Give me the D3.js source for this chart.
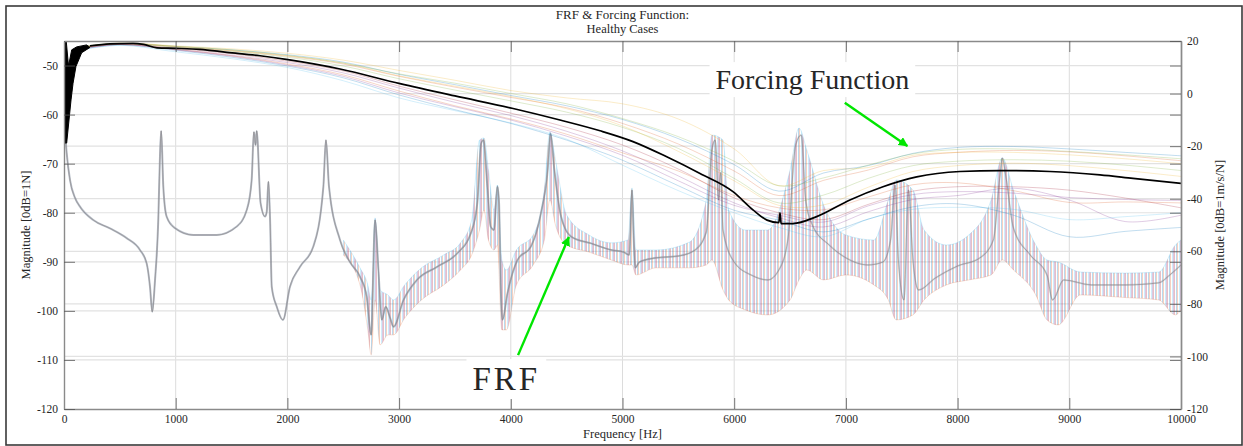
<!DOCTYPE html>
<html><head><meta charset="utf-8">
<script src="https://cdn.jsdelivr.net/npm/d3@7"></script>
<style>
body{margin:0;background:#fff}
svg{display:block}
text{font-family:"Liberation Serif","Times New Roman",serif;fill:#262626}
</style>
</head><body>
<svg id="c" width="1243" height="446"></svg>
<script>
// ---------------- DATA ----------------
const xTicks = [0,1000,2000,3000,4000,5000,6000,7000,8000,9000,10000];
const leftTicks = [-120,-110,-100,-90,-80,-70,-60,-50];
const rightTicks = [-120,-100,-80,-60,-40,-20,0,20];
const caseColors = ["#0072BD","#D95319","#EDB120","#7E2F8E","#77AC30","#4DBEEE","#A2142F"];

// FRF (right axis, dB re 1 m/s/N) - representative curve
const frfFreq = [2,24,54,98,143,262,412,561,680,740,770,790,815,844,860,870,889,919,994,1158,1367,1546,1636,1680,1700,1715,1725,1760,1800,1815,1830,1845,1860,1905,1960,2023,2113,2232,2322,2345,2372,2471,2560,2650,2710,2750,2785,2815,2845,2880,2920,2950,3040,3160,3340,3520,3640,3700,3735,3755,3790,3820,3850,3880,3895,3910,3925,3970,4060,4180,4270,4330,4355,4390,4450,4540,4720,4900,5010,5060,5085,5100,5115,5150,5300,5500,5650,5750,5800,5830,5860,5880,5900,6000,6150,6300,6400,6480,6550,6600,6640,6700,6850,7000,7200,7330,7400,7440,7470,7520,7560,7600,7650,7800,8000,8200,8320,8380,8400,8430,8500,8650,8800,8850,8950,9200,9500,9800,9900,10000];
const frfMag = [-9.5,-22.6,-32.9,-39.6,-43.0,-48.1,-51.3,-55.0,-59.5,-64.6,-73.5,-83.0,-70.9,-48.1,-22.7,-14.2,-35.4,-46.8,-51.2,-53.8,-53.8,-50.6,-44.3,-32.9,-14.6,-19.6,-14.2,-41.7,-46.8,-45.0,-33.5,-48.1,-73.5,-81.1,-86.1,-73.5,-65.9,-58.2,-35.4,-17.7,-35.2,-55.7,-64.1,-69.7,-77.3,-91.8,-48.1,-67.1,-86.1,-81.1,-85.4,-88.7,-78.5,-70.9,-65.9,-60.8,-53.4,-41.7,-18.9,-17.7,-35.4,-50.6,-51.9,-35.4,-41.7,-73.5,-86.1,-76.0,-63.3,-58.2,-45.5,-29.1,-15.2,-29.1,-46.8,-54.4,-57.0,-59.5,-60.3,-61.4,-36.7,-55.0,-66.3,-64.1,-62.5,-61.8,-59.5,-52.7,-21.5,-17.7,-40.5,-30.0,-51.9,-64.1,-69.0,-70.9,-67.1,-55.7,-19.6,-15.8,-40.5,-50.0,-57.6,-62.5,-65.2,-64.1,-55.7,-34.8,-63.3,-78.5,-36.7,-63.3,-74.7,-70.2,-65.6,-62.5,-55.7,-31.0,-24.5,-31.0,-51.1,-61.4,-69.0,-78.5,-70.9,-72.8,-72.8,-72.0,-69.0,-65.2];

// FRF spread across the healthy cases (upper / lower envelope)
const spreadFreq = [2500,2650,2720,2750,2785,2830,2900,2950,3050,3200,3400,3550,3650,3720,3760,3800,3850,3880,3920,3960,4050,4200,4300,4350,4400,4500,4700,4900,5050,5085,5120,5300,5600,5750,5800,5900,5950,6100,6300,6500,6580,6650,6800,7000,7250,7380,7450,7600,7700,7900,8100,8300,8400,8500,8700,8800,8900,9100,9500,9800,9950,10000];
const spreadHi = [-55.7,-66.3,-72.8,-78.5,-47.3,-74.7,-76.6,-78.5,-72.8,-66.3,-61.4,-56.8,-48.1,-17.7,-16.9,-29.1,-44.3,-34.8,-63.3,-67.1,-59.5,-53.8,-36.7,-14.6,-25.3,-46.2,-53.8,-56.8,-55.7,-35.9,-59.5,-59.5,-56.5,-40.5,-15.8,-17.7,-44.3,-51.9,-51.9,-29.1,-13.1,-21.5,-42.4,-53.8,-55.7,-40.5,-32.9,-36.7,-51.9,-57.6,-53.8,-40.5,-24.5,-36.7,-57.6,-63.3,-64.1,-67.9,-68.3,-67.9,-57.6,-55.7];
const spreadLo = [-61.4,-72.8,-89.9,-99.4,-78.5,-95.6,-91.8,-91.8,-85.4,-78.5,-72.8,-67.1,-61.4,-51.9,-44.3,-55.7,-59.5,-57.6,-89.9,-89.9,-72.8,-65.2,-55.7,-40.5,-50.0,-57.6,-60.3,-63.3,-65.2,-65.2,-69.0,-66.3,-66.3,-65.2,-63.3,-74.7,-78.5,-82.3,-84.2,-78.5,-70.9,-67.1,-70.9,-69.0,-72.8,-78.5,-86.1,-84.2,-78.5,-72.8,-70.9,-69.0,-63.3,-67.1,-76.6,-86.1,-88.0,-76.6,-77.6,-78.5,-84.2,-82.3];

// Forcing function (left axis, dB re 1 N): start-up transient envelope
const ffTopFreq = [0,20,38,45,69,113,202];
const ffTopMag  = [-45.0,-45.0,-49.5,-49.6,-46.8,-46.2,-45.8];
const ffBotFreq = [0,24,63,81,107,158,233];
const ffBotMag  = [-65.8,-65.8,-57.0,-53.6,-50.2,-47.4,-46.3];

// Forcing function mean (black)
const ffMeanFreq = [233,412,618,710,833,1003,1218,1459,1755,2005,2471,3008,3500,4011,4440,4799,5094,5396,5694,5989,6168,6294,6400,6410,6420,6526,6738,7036,7332,7634,8021,8380,8827,9275,9570,10000];
const ffMeanMag  = [-46.0,-45.6,-45.5,-45.7,-46.4,-46.5,-46.7,-47.3,-48.0,-48.8,-50.7,-53.7,-56.2,-58.7,-61.1,-63.3,-65.5,-68.6,-72.0,-75.7,-79.4,-81.5,-82.0,-80.0,-82.2,-82.2,-80.8,-77.4,-74.7,-72.7,-71.6,-71.4,-71.6,-72.3,-73.0,-74.0];

// Forcing function, individual healthy cases
const caseFreq = [150,500,1000,1500,2000,2500,3000,3500,4000,4500,5000,5500,6000,6400,6800,7200,7600,8000,8500,9000,9500,10000];
const case1  = [-46.2,-45.5,-46.1,-46.8,-47.8,-49.3,-51.8,-53.9,-56.1,-58.2,-61.0,-64.9,-70.2,-75.6,-71.9,-70.4,-67.9,-66.7,-66.5,-67.0,-67.7,-68.4];
const case2  = [-46.3,-45.5,-46.2,-47.0,-48.1,-49.7,-52.2,-54.4,-56.5,-58.6,-61.8,-66.0,-71.5,-76.5,-73.4,-71.3,-68.6,-67.7,-67.3,-67.6,-68.4,-69.4];
const case3  = [-46.2,-45.4,-46.0,-46.6,-47.5,-48.9,-51.0,-53.0,-55.1,-56.6,-57.8,-60.9,-67.0,-74.5,-71.4,-70.8,-68.3,-67.7,-67.7,-68.2,-69.0,-70.0];
const case4  = [-46.6,-45.7,-46.7,-47.9,-49.4,-51.5,-54.6,-57.5,-60.2,-63.4,-67.4,-72.5,-78.0,-81.0,-82.9,-79.8,-77.3,-76.5,-75.0,-77.4,-81.8,-80.5];
const case5  = [-46.3,-45.6,-46.3,-47.1,-48.3,-50.1,-52.7,-55.0,-57.2,-59.5,-62.6,-66.9,-73.0,-78.0,-76.4,-73.0,-70.4,-69.5,-69.2,-69.5,-70.3,-71.4];
const case6  = [-46.8,-45.9,-47.2,-48.6,-50.4,-53.1,-56.6,-59.2,-61.7,-65.0,-70.3,-75.5,-80.0,-83.0,-84.9,-81.3,-79.3,-78.9,-79.3,-81.4,-80.8,-80.0];
const case7  = [-46.4,-45.6,-46.5,-47.6,-49.1,-51.1,-54.2,-57.0,-59.7,-62.6,-66.2,-71.1,-77.0,-80.0,-81.4,-78.3,-75.6,-74.7,-74.7,-75.4,-77.0,-79.0];
const case8  = [-46.7,-45.8,-46.9,-48.3,-50.1,-52.5,-56.0,-59.0,-61.8,-65.2,-69.3,-74.5,-79.5,-81.5,-83.9,-81.3,-78.8,-78.2,-80.5,-84.9,-83.8,-83.0];
const case9  = [-46.5,-45.7,-46.7,-48.0,-49.7,-51.9,-55.2,-58.2,-60.9,-64.0,-67.8,-71.5,-76.5,-79.0,-79.4,-76.8,-74.3,-73.9,-75.5,-77.9,-77.8,-78.0];
const case10 = [-46.3,-45.5,-46.1,-46.9,-48.0,-49.5,-52.1,-54.2,-56.3,-58.8,-62.3,-67.5,-73.5,-78.5,-78.4,-74.8,-71.6,-70.4,-69.9,-70.4,-71.4,-72.6];
const case11 = [-46.6,-45.7,-46.8,-48.1,-49.9,-52.2,-55.6,-58.4,-61.1,-64.4,-68.3,-73.5,-78.5,-80.5,-81.9,-78.6,-76.3,-75.7,-76.0,-76.9,-77.3,-77.5];
const case12 = [-46.2,-45.5,-46.1,-46.8,-47.9,-49.5,-51.7,-53.6,-55.7,-57.8,-60.8,-64.5,-69.5,-74.5,-72.9,-70.3,-68.0,-67.1,-67.0,-67.5,-68.2,-69.0];
const cases = [case1,case2,case3,case4,case5,case6,case7,case8,case9,case10,case11,case12];

// annotations (data coordinates)
const annFF  = {text:"Forcing Function", f:6700, mag:-54.8, size:28, spacing:0, from:[6990,-57.6], to:[7550,-66.4]};
const annFRF = {text:"FRF", f:3960, mag:-112.8, size:33, spacing:3, from:[4065,-99.5], to:[4520,-54.6]};

// ---------------- CHART ----------------
const svg = d3.select("#c");
const m = {l:64, r:1181, t:41, b:409};
const x  = d3.scaleLinear().domain([0,10000]).range([m.l,m.r]);
const yL = d3.scaleLinear().domain([-120,-45]).range([m.b,m.t]);
const yR = d3.scaleLinear().domain([-120,20]).range([m.b,m.t]);

svg.append("rect").attr("width",1243).attr("height",446).attr("fill","#fff");
svg.append("rect").attr("x",6).attr("y",6).attr("width",1236).attr("height",439)
  .attr("fill","none").attr("stroke","#3a3a3a").attr("stroke-width",1.6);

const defs = svg.append("defs");
defs.append("clipPath").attr("id","plot").append("rect")
  .attr("x",m.l).attr("y",m.t).attr("width",m.r-m.l).attr("height",m.b-m.t);
const pat = defs.append("pattern").attr("id","cloud").attr("patternUnits","userSpaceOnUse")
  .attr("width",7).attr("height",4);
[[0,0],[1,1],[3,5],[4,3],[5,6]].forEach(([px,ci])=>{
  pat.append("rect").attr("x",px).attr("y",0).attr("width",1).attr("height",4)
    .attr("fill",caseColors[ci]).attr("fill-opacity",0.6);
});
// FRF curve fades where the cases scatter (high frequencies)
const fade = defs.append("linearGradient").attr("id","frfFade").attr("gradientUnits","userSpaceOnUse")
  .attr("x1",m.l).attr("x2",m.r).attr("y1",0).attr("y2",0);
fade.append("stop").attr("offset",0).attr("stop-color","#8e9aab").attr("stop-opacity",0.65);
fade.append("stop").attr("offset",0.52).attr("stop-color","#8e9aab").attr("stop-opacity",0.6);
fade.append("stop").attr("offset",0.6).attr("stop-color","#8e9aab").attr("stop-opacity",0.28);
fade.append("stop").attr("offset",1).attr("stop-color","#8e9aab").attr("stop-opacity",0.28);
defs.append("marker").attr("id","ah").attr("viewBox","0 0 10 10").attr("refX",9).attr("refY",5)
  .attr("markerWidth",4).attr("markerHeight",4).attr("orient","auto").attr("markerUnits","strokeWidth")
  .append("path").attr("d","M0,0 L10,5 L0,10 Z").attr("fill","#00e600");

// grid
const grid = svg.append("g");
grid.selectAll(".gx").data(xTicks.slice(1,-1)).join("line")
  .attr("x1",d=>x(d)).attr("x2",d=>x(d)).attr("y1",m.t).attr("y2",m.b)
  .attr("stroke","#dcdcdc").attr("stroke-width",1);
grid.selectAll(".gl").data(leftTicks.filter(d=>d>-120)).join("line")
  .attr("x1",m.l).attr("x2",m.r).attr("y1",d=>yL(d)).attr("y2",d=>yL(d))
  .attr("stroke","#e2e2e2").attr("stroke-width",1.2);
grid.selectAll(".gr").data(rightTicks.filter(d=>d>-120&&d<20)).join("line")
  .attr("x1",m.l).attr("x2",m.r).attr("y1",d=>yR(d)).attr("y2",d=>yR(d))
  .attr("stroke","#e2e2e2").attr("stroke-width",1.2);

const plot = svg.append("g").attr("clip-path","url(#plot)");

// FRF spread band
const spread = spreadFreq.map((f,i)=>({f, hi:spreadHi[i], lo:spreadLo[i]}));
plot.append("path").datum(spread)
  .attr("d", d3.area().x(d=>x(d.f)).y0(d=>yR(d.lo)).y1(d=>yR(d.hi)).curve(d3.curveMonotoneX))
  .attr("fill","url(#cloud)").attr("fill-opacity",0.45);
plot.append("path").datum(spread)
  .attr("d", d3.line().x(d=>x(d.f)).y(d=>yR(d.hi)).curve(d3.curveMonotoneX))
  .attr("fill","none").attr("stroke","#4DBEEE").attr("stroke-width",0.6).attr("stroke-opacity",0.4);
plot.append("path").datum(spread)
  .attr("d", d3.line().x(d=>x(d.f)).y(d=>yR(d.lo)).curve(d3.curveMonotoneX))
  .attr("fill","none").attr("stroke","#D95319").attr("stroke-width",0.6).attr("stroke-opacity",0.3);

// FRF representative curve
const frf = frfFreq.map((f,i)=>({f, v:frfMag[i]}));
const frfLine = d3.line().x(d=>x(d.f)).y(d=>yR(d.v)).curve(d3.curveMonotoneX);
plot.append("path").datum(frf).attr("d",frfLine).attr("fill","none")
  .attr("stroke","url(#frfFade)").attr("stroke-width",2.0);
plot.append("path").datum(frf).attr("d",frfLine).attr("fill","none")
  .attr("stroke","#c98b62").attr("stroke-width",0.8).attr("stroke-opacity",0.45);
plot.append("path").datum(frf).attr("d",frfLine).attr("fill","none")
  .attr("stroke","#3f6f98").attr("stroke-width",0.6).attr("stroke-opacity",0.45);

// forcing function cases
const caseLine = d3.line().x(d=>x(d.f)).y(d=>yL(d.v)).curve(d3.curveCatmullRom.alpha(0.5));
cases.forEach((c,k)=>{
  plot.append("path").datum(caseFreq.map((f,i)=>({f, v:c[i]})))
    .attr("d",caseLine).attr("fill","none")
    .attr("stroke",caseColors[k%caseColors.length]).attr("stroke-width",0.7).attr("stroke-opacity",0.35);
});

// forcing function start transient (dense oscillation -> filled)
const wedge = ffTopFreq.map((f,i)=>({f, v:ffTopMag[i]}))
  .concat(ffBotFreq.map((f,i)=>({f, v:ffBotMag[i]})).reverse());
plot.append("path")
  .attr("d", d3.line().x(d=>x(d.f)).y(d=>yL(d.v))(wedge)+"Z")
  .attr("fill","#000").attr("stroke","#000").attr("stroke-width",1);

// forcing function mean
plot.append("path").datum(ffMeanFreq.map((f,i)=>({f, v:ffMeanMag[i]})))
  .attr("d", d3.line().x(d=>x(d.f)).y(d=>yL(d.v)).curve(d3.curveMonotoneX))
  .attr("fill","none").attr("stroke","#000").attr("stroke-width",1.7);

// axes
const fmt = d=>String(d);
function style(g){
  g.select(".domain").attr("stroke","#8a8a8a").attr("stroke-width",1.4);
  g.selectAll(".tick line").attr("stroke","#555").attr("stroke-width",0.8);
  g.selectAll(".tick text").attr("fill","#262626").attr("font-size",11.5)
    .attr("font-family",'"Liberation Serif","Times New Roman",serif');
  g.attr("font-family",null);
}
svg.append("g").attr("transform",`translate(0,${m.b})`)
  .call(d3.axisBottom(x).tickValues(xTicks).tickFormat(fmt).tickSize(-11).tickSizeOuter(0).tickPadding(6)).call(style);
svg.append("g").attr("transform",`translate(0,${m.t})`)
  .call(d3.axisTop(x).tickValues(xTicks).tickFormat("").tickSize(-11).tickSizeOuter(0)).call(style);
svg.append("g").attr("transform",`translate(${m.l},0)`)
  .call(d3.axisLeft(yL).tickValues(leftTicks).tickFormat(fmt).tickSize(-11).tickSizeOuter(0).tickPadding(6)).call(style);
svg.append("g").attr("transform",`translate(${m.r},0)`)
  .call(d3.axisRight(yL).tickValues(leftTicks).tickFormat("").tickSize(-11).tickSizeOuter(0)).call(style);
svg.append("g").attr("transform",`translate(${m.r},0)`)
  .call(d3.axisRight(yR).tickValues(rightTicks).tickFormat(fmt).tickSize(-11).tickSizeOuter(0).tickPadding(6)).call(style);

// labels
svg.append("text").attr("x",(m.l+m.r)/2).attr("y",438).attr("text-anchor","middle")
  .attr("font-size",12.5).text("Frequency [Hz]");
svg.append("text").attr("transform",`translate(30,${(m.t+m.b)/2}) rotate(-90)`).attr("text-anchor","middle")
  .attr("font-size",12.5).text("Magnitude [0dB=1N]");
svg.append("text").attr("transform",`translate(1224,${(m.t+m.b)/2}) rotate(-90)`).attr("text-anchor","middle")
  .attr("font-size",12.5).text("Magnitude [0dB=1m/s/N]");
svg.append("text").attr("x",(m.l+m.r)/2).attr("y",18.5).attr("text-anchor","middle")
  .attr("font-size",13).text("FRF & Forcing Function:");
svg.append("text").attr("x",(m.l+m.r)/2).attr("y",32.5).attr("text-anchor","middle")
  .attr("font-size",12.5).text("Healthy Cases");

// annotations
function annotate(a, yScale){
  const t = svg.append("text").attr("x",x(a.f)).attr("y",yScale(a.mag)).attr("text-anchor","middle")
    .attr("font-size",a.size).attr("letter-spacing",a.spacing).attr("fill","#000").text(a.text);
  const bb = t.node().getBBox();
  svg.insert("rect", function(){return t.node();})
    .attr("x",bb.x-6).attr("y",bb.y-2).attr("width",bb.width+12).attr("height",bb.height+4).attr("fill","#fff");
  svg.append("line").attr("x1",x(a.from[0])).attr("y1",yScale(a.from[1]))
    .attr("x2",x(a.to[0])).attr("y2",yScale(a.to[1]))
    .attr("stroke","#00e600").attr("stroke-width",2.4).attr("marker-end","url(#ah)");
}
annotate(annFF, yL);
annotate(annFRF, yR);
</script>
</body></html>
